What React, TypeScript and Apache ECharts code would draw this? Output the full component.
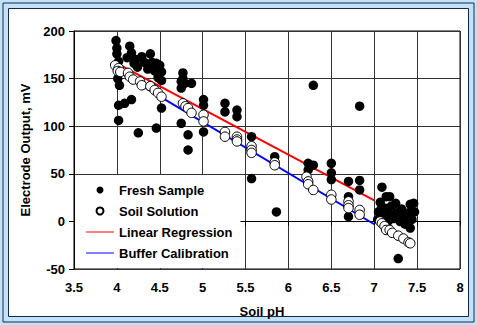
import React, { useEffect, useRef } from "react";
import * as echarts from "echarts";

const xTicks = { min: 3.5, max: 8, interval: 0.5 };
const yTicks = { min: -50, max: 200, interval: 50 };

const seriesNames = ["Fresh Sample", "Soil Solution", "Linear Regression", "Buffer Calibration"];

const freshSample: number[][] = [
  [3.99, 190], [4.0, 182], [4.0, 176], [4.02, 168], [4.01, 150], [4.03, 143], [4.02, 122], [4.02, 106], [4.09, 124], [4.17, 128],
  [4.15, 184], [4.17, 177], [4.12, 172], [4.2, 166], [4.24, 162], [4.22, 170], [4.29, 173], [4.32, 167], [4.39, 176], [4.41, 167],
  [4.36, 160], [4.44, 158], [4.46, 166], [4.5, 164], [4.52, 157], [4.48, 151], [4.52, 148], [4.52, 119], [4.25, 93], [4.46, 98],
  [4.77, 156], [4.75, 147], [4.79, 145], [4.87, 145], [4.75, 140], [4.77, 150], [4.75, 103], [4.83, 91], [4.83, 75],
  [5.01, 128], [5.01, 122], [5.01, 94],
  [5.26, 124], [5.26, 115], [5.4, 117], [5.4, 110], [5.57, 89], [5.57, 45],
  [5.84, 68], [5.86, 10],
  [6.23, 61], [6.29, 59], [6.23, 54], [6.29, 143],
  [6.5, 61], [6.5, 51], [6.5, 44], [6.7, 42], [6.7, 26], [6.7, 16], [6.7, 5], [6.83, 43], [6.83, 33], [6.83, 121],
  [7.09, 36], [7.14, 26], [7.18, 26], [7.07, 20], [7.05, 10], [7.12, 14], [7.2, 16], [7.26, 9], [7.34, 5], [7.42, 18],
  [7.46, 19], [7.4, 9], [7.47, 10], [7.42, -7], [7.1, 4], [7.16, 0], [7.22, 3], [7.3, 0], [7.36, -3], [7.25, 19],
  [7.32, 13], [7.38, 3], [7.08, 13], [7.17, 8], [7.28, -39], [7.44, 2], [7.04, 2],
];

const soilSolution: number[][] = [
  [3.98, 164], [4.02, 161], [4.01, 158], [4.04, 157], [4.13, 156], [4.15, 152], [4.19, 149], [4.27, 147], [4.29, 143], [4.39, 142],
  [4.44, 138], [4.48, 135], [4.52, 131],
  [4.77, 124], [4.8, 121], [4.83, 119], [4.87, 114], [5.01, 112], [5.01, 105], [5.26, 94], [5.26, 89], [5.4, 89], [5.4, 86],
  [5.4, 84], [5.57, 79], [5.57, 75], [5.57, 72], [5.84, 62], [5.84, 59],
  [6.21, 47], [6.23, 42], [6.23, 39], [6.29, 33], [6.5, 28], [6.5, 23], [6.7, 21], [6.7, 17], [6.7, 14], [6.83, 12], [6.83, 7],
  [7.07, 0], [7.09, -2], [7.12, -5], [7.14, -9], [7.18, -9], [7.21, -12], [7.28, -15], [7.34, -18], [7.4, -22], [7.42, -23],
];

const linearRegression: number[][] = [[4.0, 166], [7.0, 22]];
const bufferCalibration: number[][] = [[4.0, 158], [7.0, -3]];

const FONT = "'Liberation Sans', Arial, sans-serif";
const LINE_ICON = "path://M0,0H28V1H0Z";

export default function App() {
  const ref = useRef<HTMLDivElement>(null);
  useEffect(() => {
    if (!ref.current) return;
    const chart = echarts.init(ref.current, undefined, { renderer: "svg" });
    const labelStyle = { color: "#000", fontFamily: FONT, fontWeight: "bold" as const, fontSize: 13 };
    chart.setOption({
      animation: false,
      backgroundColor: "#c4e2f7",
      graphic: [
        { type: "rect", z: -10, silent: true, shape: { x: 3, y: 3, width: 471, height: 319 }, style: { fill: "#c4e2f7", stroke: "#14284f", lineWidth: 1 } },
        { type: "rect", z: -9, silent: true, shape: { x: 8.5, y: 8.5, width: 460, height: 308 }, style: { fill: "#ffffff", stroke: "#14284f", lineWidth: 1 } },
      ],
      grid: {
        left: 74, top: 31, width: 386, height: 238,
        show: true, borderColor: "#000", borderWidth: 1, backgroundColor: "transparent",
      },
      legend: {
        orient: "vertical",
        left: 75, top: 175,
        backgroundColor: "#fff",
        padding: [8, 8, 8, 11],
        itemWidth: 28, itemHeight: 7, itemGap: 7,
        textStyle: { ...labelStyle, lineHeight: 14 },
        data: [
          { name: seriesNames[0] },
          { name: seriesNames[1] },
          { name: seriesNames[2], icon: LINE_ICON, itemStyle: { color: "#ff0000", borderWidth: 0 } },
          { name: seriesNames[3], icon: LINE_ICON, itemStyle: { color: "#0000ff", borderWidth: 0 } },
        ],
      },
      xAxis: {
        type: "value", ...xTicks,
        name: "Soil pH", nameLocation: "middle", nameGap: 36,
        nameTextStyle: { ...labelStyle, padding: [0, 10, 0, 0] },
        axisLine: { show: true, lineStyle: { color: "#000", width: 1 } },
        axisTick: { show: true, length: 4, lineStyle: { color: "#000" } },
        axisLabel: { ...labelStyle, margin: 12 },
        splitLine: { show: true, lineStyle: { color: "#333", width: 1 } },
      },
      yAxis: {
        type: "value", ...yTicks,
        name: "Electrode Output, mV", nameLocation: "middle", nameGap: 41,
        nameTextStyle: labelStyle,
        axisLine: { show: true, lineStyle: { color: "#000", width: 1 } },
        axisTick: { show: true, length: 5, lineStyle: { color: "#000" } },
        axisLabel: { ...labelStyle, margin: 9 },
        splitLine: { show: true, lineStyle: { color: "#333", width: 1 } },
      },
      series: [
        {
          name: seriesNames[2], type: "line", data: linearRegression, symbol: "none", showSymbol: false, z: 1,
          lineStyle: { color: "#ff0000", width: 2 }, itemStyle: { color: "#ff0000" },
        },
        {
          name: seriesNames[3], type: "line", data: bufferCalibration, symbol: "none", showSymbol: false, z: 1,
          lineStyle: { color: "#0000ff", width: 2 }, itemStyle: { color: "#0000ff" },
        },
        {
          name: seriesNames[0], type: "scatter", data: freshSample, symbol: "circle", symbolSize: 9.5, z: 2,
          itemStyle: { color: "#000", opacity: 1 },
        },
        {
          name: seriesNames[1], type: "scatter", data: soilSolution, symbol: "circle", symbolSize: 9.5, z: 3,
          itemStyle: { color: "#fff", borderColor: "#000", borderWidth: 1, opacity: 1 },
        },
      ],
    });
    return () => chart.dispose();
  }, []);
  return <div ref={ref} style={{ position: "absolute", left: 0, top: 0, width: 477, height: 325 }} />;
}
